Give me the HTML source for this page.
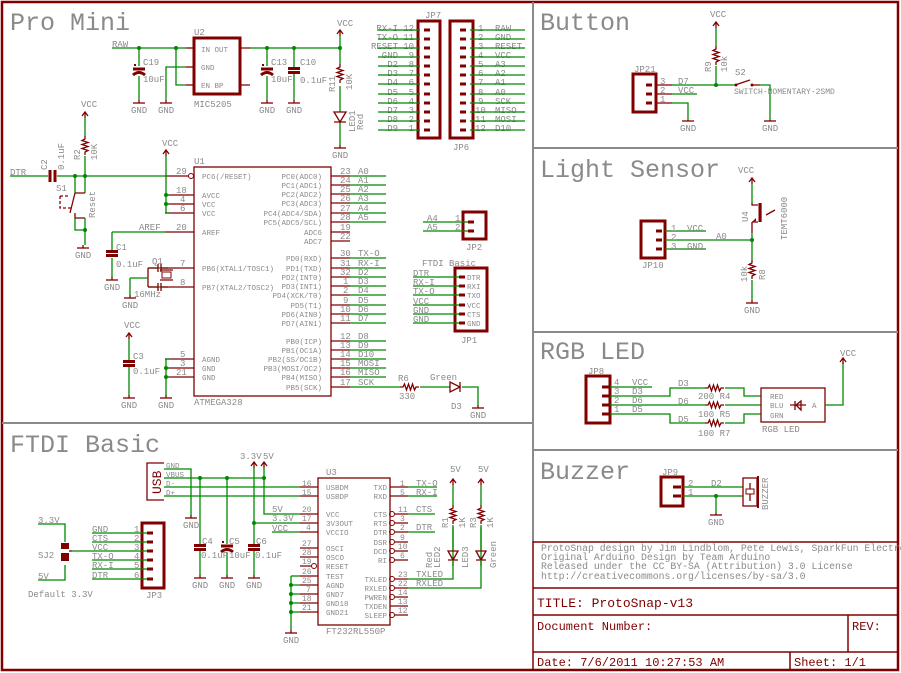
<!DOCTYPE html>
<html><head><meta charset="utf-8"><style>
html,body{margin:0;padding:0;background:#fff;}
svg{display:block;}
text{font-family:"Liberation Mono",monospace;}
.g{fill:#8a8a8a;font-size:9px;}
.s{fill:#8a8a8a;font-size:7.5px;}
.t{fill:#8a8a8a;font-size:25px;}
.r{stroke:#800000;stroke-width:1.3;fill:none;}
.rb{stroke:#800000;stroke-width:3;fill:none;}
.w{stroke:#008800;stroke-width:1.3;fill:none;}
.d{fill:#008800;}
.red{fill:#800000;}
</style></head><body>
<svg width="901" height="673" viewBox="0 0 901 673" xmlns="http://www.w3.org/2000/svg">
<defs>
<g id="gnd"><line x1="-6" y1="0" x2="6" y2="0" class="r"/><text x="-8" y="10" class="g">GND</text></g>
<g id="vcc"><path d="M-3,4 L0,0 L3,4" class="r"/><line x1="0" y1="0" x2="0" y2="6" class="r"/></g>
<g id="resv"><path d="M0,0 l0,3 l-3,1.5 l6,2 l-6,2 l6,2 l-6,2 l6,2 l-3,1.5 l0,3" class="r"/></g>
<g id="resh"><path d="M0,0 l3,0 l1.5,-3 l2,6 l2,-6 l2,6 l2,-6 l2,6 l1.5,-3 l3,0" class="r"/></g>
<g id="capv"><line x1="-6" y1="-1.5" x2="6" y2="-1.5" class="rb"/><line x1="-6" y1="2.5" x2="6" y2="2.5" class="rb"/></g>
<g id="capp"><line x1="-6" y1="-2" x2="6" y2="-2" class="rb"/><path d="M-6,4 Q0,-1 6,4" class="rb"/><rect x="-5" y="-7" width="2" height="2" class="red"/></g>
</defs>

<!-- frame -->
<rect x="2" y="2" width="896" height="668" fill="none" stroke="#800000" stroke-width="2.5"/>
<line x1="2" y1="423" x2="533" y2="423" stroke="#8a8a8a" stroke-width="2"/>
<line x1="533" y1="2" x2="533" y2="542" stroke="#8a8a8a" stroke-width="2"/>
<line x1="533" y1="148" x2="898" y2="148" stroke="#8a8a8a" stroke-width="2"/>
<line x1="533" y1="332" x2="898" y2="332" stroke="#8a8a8a" stroke-width="2"/>
<line x1="533" y1="450" x2="898" y2="450" stroke="#8a8a8a" stroke-width="2"/>

<!-- titles -->
<text x="10" y="30" class="t">Pro Mini</text>
<text x="10" y="452" class="t">FTDI Basic</text>
<text x="540" y="30" class="t">Button</text>
<text x="540" y="177" class="t">Light Sensor</text>
<text x="540" y="359" class="t">RGB LED</text>
<text x="540" y="479" class="t">Buzzer</text>

<!-- ============ PRO MINI top ============ -->
<text x="112" y="47" class="g">RAW</text>
<path d="M112,48 H186" class="w"/><path d="M186,48 H194" class="r"/>
<circle cx="139" cy="48" r="2" class="d"/><circle cx="176" cy="48" r="2" class="d"/>
<path d="M139,48 V66 M139,76 V100" class="w"/><use href="#capp" x="139" y="71"/>
<path d="M139,100 V103" class="r"/><use href="#gnd" x="139" y="103"/>
<text x="143" y="65" class="g">C19</text><text x="143" y="82" class="g">10uF</text>
<path d="M176,48 V85 H186" class="w"/><path d="M186,85 H194" class="r"/>
<path d="M186,67 H166 V100" class="w"/><path d="M166,100 V103" class="r"/><use href="#gnd" x="166" y="103"/>
<path d="M186,67 H194" class="r"/>
<rect x="194" y="38" width="46" height="56" class="rb" stroke-width="2"/>
<text x="194" y="35" class="g">U2</text><text x="194" y="107" class="g">MIC5205</text>
<text x="201" y="52" class="s">IN OUT</text><text x="201" y="70" class="s">GND</text><text x="201" y="88" class="s">EN  BP</text>
<path d="M240,48 H250 M240,85 H250" class="r"/>
<path d="M250,48 H340" class="w"/>
<circle cx="267" cy="48" r="2" class="d"/><circle cx="294" cy="48" r="2" class="d"/><circle cx="340" cy="48" r="2" class="d"/>
<path d="M267,48 V66 M267,76 V100" class="w"/><use href="#capp" x="267" y="71"/><path d="M267,100V103" class="r"/><use href="#gnd" x="267" y="103"/>
<text x="271" y="65" class="g">C13</text><text x="271" y="82" class="g">10uF</text>
<path d="M294,48 V68 M294,74 V100" class="w"/><use href="#capv" x="294" y="70"/><path d="M294,100V103" class="r"/><use href="#gnd" x="294" y="103"/>
<text x="300" y="65" class="g">C10</text><text x="300" y="83" class="g">0.1uF</text>
<use href="#vcc" x="340" y="30"/><text x="337" y="26" class="g">VCC</text>
<path d="M340,36 V64 M340,86 V112 M340,122 V145" class="w"/>
<use href="#resv" x="340" y="64"/>
<text transform="translate(335,92) rotate(-90)" class="g">R11</text><text transform="translate(352,90) rotate(-90)" class="g">10K</text>
<path d="M334,112 H346 L340,122 Z M334,122 H346" class="r"/>
<text transform="translate(355,132) rotate(-90)" class="g">LED1</text><text transform="translate(363,130) rotate(-90)" class="g">Red</text>
<path d="M340,145V148" class="r"/><use href="#gnd" x="340" y="148"/>

<!-- JP7 -->
<text x="425" y="18" class="g">JP7</text>
<rect x="418" y="21" width="22" height="117" class="rb" stroke-width="2"/>
<g class="g" text-anchor="end">
<text x="398" y="31">RX-I</text><text x="398" y="40">TX-O</text><text x="398" y="49">RESET</text><text x="398" y="58">GND</text>
<text x="398" y="67">D2</text><text x="398" y="76">D3</text><text x="398" y="85">D4</text><text x="398" y="95">D5</text>
<text x="398" y="104">D6</text><text x="398" y="113">D7</text><text x="398" y="122">D8</text><text x="398" y="131">D9</text>
<text x="414" y="31">12</text><text x="414" y="40">11</text><text x="414" y="49">10</text><text x="414" y="58">9</text>
<text x="414" y="67">8</text><text x="414" y="76">7</text><text x="414" y="85">6</text><text x="414" y="95">5</text>
<text x="414" y="104">4</text><text x="414" y="113">3</text><text x="414" y="122">2</text><text x="414" y="131">1</text>
</g>
<g class="w">
<path d="M378,30H420M378,39H420M378,48H420M378,57H420M378,66H420M378,75H420M378,84H420M378,94H420M378,103H420M378,112H420M378,121H420M378,130H420"/>
</g>
<g class="rb" stroke-width="2.5"><path d="M424,30h6M424,39h6M424,48h6M424,57h6M424,66h6M424,75h6M424,84h6M424,94h6M424,103h6M424,112h6M424,121h6M424,130h6"/></g>
<!-- JP6 -->
<rect x="450" y="21" width="23" height="117" class="rb" stroke-width="2"/>
<text x="453" y="150" class="g">JP6</text>
<g class="g">
<text x="478" y="31">1</text><text x="478" y="40">2</text><text x="478" y="49">3</text><text x="478" y="58">4</text>
<text x="478" y="67">5</text><text x="478" y="76">6</text><text x="478" y="85">7</text><text x="478" y="95">8</text>
<text x="478" y="104">9</text><text x="475" y="113">10</text><text x="475" y="122">11</text><text x="475" y="131">12</text>
<text x="495" y="31">RAW</text><text x="495" y="40">GND</text><text x="495" y="49">RESET</text><text x="495" y="58">VCC</text>
<text x="495" y="67">A3</text><text x="495" y="76">A2</text><text x="495" y="85">A1</text><text x="495" y="95">A0</text>
<text x="495" y="104">SCK</text><text x="495" y="113">MISO</text><text x="495" y="122">MOSI</text><text x="495" y="131">D10</text>
</g>
<g class="w"><path d="M470,30H525M470,39H525M470,48H525M470,57H525M470,66H525M470,75H525M470,84H525M470,94H525M470,103H525M470,112H525M470,121H525M470,130H525"/></g>
<g class="rb" stroke-width="2.5"><path d="M460,30h6M460,39h6M460,48h6M460,57h6M460,66h6M460,75h6M460,84h6M460,94h6M460,103h6M460,112h6M460,121h6M460,130h6"/></g>

<!-- ============ U1 ============ -->
<rect x="194" y="167" width="137" height="229" class="r"/>
<text x="194" y="164" class="g">U1</text><text x="194" y="405" class="g">ATMEGA328</text>
<g class="r"><path d="M165,176H189 M165,195H194 M165,204H194 M165,213H194 M165,232H194 M165,268H194 M165,287H194 M165,359H194 M165,368H194 M165,377H194"/></g>
<circle cx="191" cy="176" r="2.5" fill="none" stroke="#800000"/>
<g class="g"><text x="176" y="174">29</text><text x="176" y="193">18</text><text x="180" y="202">4</text><text x="180" y="211">6</text><text x="176" y="230">20</text><text x="180" y="266">7</text><text x="180" y="285">8</text><text x="180" y="357">5</text><text x="180" y="366">3</text><text x="176" y="375">21</text></g>
<g class="s"><text x="202" y="179">PC6(/RESET)</text><text x="202" y="198">AVCC</text><text x="202" y="207">VCC</text><text x="202" y="216">VCC</text><text x="202" y="235">AREF</text>
<text x="202" y="271">PB6(XTAL1/TOSC1)</text><text x="202" y="290">PB7(XTAL2/TOSC2)</text><text x="202" y="362">AGND</text><text x="202" y="371">GND</text><text x="202" y="380">GND</text></g>
<g class="s" text-anchor="end">
<text x="322" y="179">PC0(ADC0)</text><text x="322" y="188">PC1(ADC1)</text><text x="322" y="197">PC2(ADC2)</text><text x="322" y="206">PC3(ADC3)</text><text x="322" y="216">PC4(ADC4/SDA)</text><text x="322" y="225">PC5(ADC5/SCL)</text>
<text x="322" y="235">ADC6</text><text x="322" y="244">ADC7</text>
<text x="322" y="261">PD0(RXD)</text><text x="322" y="271">PD1(TXD)</text><text x="322" y="280">PD2(INT0)</text><text x="322" y="289">PD3(INT1)</text><text x="322" y="298">PD4(XCK/T0)</text><text x="322" y="308">PD5(T1)</text><text x="322" y="317">PD6(AIN0)</text><text x="322" y="326">PD7(AIN1)</text>
<text x="322" y="344">PB0(ICP)</text><text x="322" y="353">PB1(OC1A)</text><text x="322" y="362">PB2(SS/OC1B)</text><text x="322" y="371">PB3(MOSI/OC2)</text><text x="322" y="380">PB4(MISO)</text><text x="322" y="390">PB5(SCK)</text>
</g>
<g class="r"><path d="M331,176H350M331,185H350M331,194H350M331,203H350M331,213H350M331,222H350M331,232H350M331,241H350M331,258H350M331,268H350M331,277H350M331,286H350M331,295H350M331,305H350M331,314H350M331,323H350M331,341H350M331,350H350M331,359H350M331,368H350M331,377H350M331,387H350"/></g>
<g class="w"><path d="M350,176H386M350,185H386M350,194H386M350,203H386M350,213H386M350,222H386M350,258H386M350,268H386M350,277H386M350,286H386M350,295H386M350,305H386M350,314H386M350,323H386M350,341H386M350,350H386M350,359H386M350,368H386M350,377H386M350,387H400"/></g>
<g class="g">
<text x="340" y="174">23</text><text x="358" y="174">A0</text><text x="340" y="183">24</text><text x="358" y="183">A1</text><text x="340" y="192">25</text><text x="358" y="192">A2</text><text x="340" y="201">26</text><text x="358" y="201">A3</text><text x="340" y="211">27</text><text x="358" y="211">A4</text><text x="340" y="220">28</text><text x="358" y="220">A5</text>
<text x="340" y="230">19</text><text x="340" y="239">22</text>
<text x="340" y="256">30</text><text x="358" y="256">TX-O</text><text x="340" y="266">31</text><text x="358" y="266">RX-I</text><text x="340" y="275">32</text><text x="358" y="275">D2</text><text x="343" y="284">1</text><text x="358" y="284">D3</text><text x="343" y="293">2</text><text x="358" y="293">D4</text><text x="343" y="303">9</text><text x="358" y="303">D5</text><text x="340" y="312">10</text><text x="358" y="312">D6</text><text x="340" y="321">11</text><text x="358" y="321">D7</text>
<text x="340" y="339">12</text><text x="358" y="339">D8</text><text x="340" y="348">13</text><text x="358" y="348">D9</text><text x="340" y="357">14</text><text x="358" y="357">D10</text><text x="340" y="366">15</text><text x="358" y="366">MOSI</text><text x="340" y="375">16</text><text x="358" y="375">MISO</text><text x="340" y="385">17</text><text x="358" y="385">SCK</text>
</g>
<!-- R6, D3 -->
<use href="#resh" x="400" y="387"/><path d="M420,387H450 M462,387H478V405" class="w"/>
<text x="398" y="381" class="g">R6</text><text x="399" y="399" class="g">330</text>
<path d="M450,382 L450,392 L460,387 Z M460,382 V392" class="r"/><text x="430" y="380" class="g">Green</text><text x="451" y="409" class="g">D3</text>
<path d="M478,405V408" class="r"/><use href="#gnd" x="478" y="408"/>

<!-- reset area -->
<text x="10" y="175" class="g">DTR</text>
<path d="M10,176H48 M57,176H165" class="w"/>
<path d="M50,170V182 M55,170V182" class="rb"/>
<text transform="translate(47,170) rotate(-90)" class="g">C2</text><text transform="translate(64,170) rotate(-90)" class="g">0.1uF</text>
<circle cx="75" cy="176" r="2" class="d"/><circle cx="85" cy="176" r="2" class="d"/>
<use href="#vcc" x="85" y="112"/><text x="81" y="107" class="g">VCC</text>
<path d="M85,118V136 M85,156V176" class="w"/><use href="#resv" x="85" y="136"/>
<text transform="translate(80,160) rotate(-90)" class="g">R2</text><text transform="translate(97,160) rotate(-90)" class="g">10K</text>
<path d="M75,176V193 M85,176V193" class="w"/><path d="M75,193 H85 M75,213 V218 H85" class="r"/>
<path d="M75,193 L70,213" class="r"/><path d="M60,196 H68 M60,196 V208 H72" class="r" stroke-dasharray="3,2"/>
<text x="56" y="191" class="g">S1</text><text transform="translate(95,218) rotate(-90)" class="g">Reset</text>
<path d="M75,218 V230 H85 M85,218 V245" class="w"/><circle cx="85" cy="230" r="2" class="d"/>
<use href="#gnd" x="83" y="248"/><path d="M83,245V248" class="r"/>
<!-- VCC bus -->
<use href="#vcc" x="166" y="150"/><text x="162" y="156" class="g" dy="-10">VCC</text>
<path d="M166,156V213H170 M166,195H170 M166,204H170" class="w"/>
<circle cx="166" cy="195" r="2" class="d"/><circle cx="166" cy="204" r="2" class="d"/>
<!-- AREF C1 -->
<text x="139" y="230" class="g">AREF</text>
<path d="M112,232H165 M112,232V250 M112,258V277" class="w"/><use href="#capv" x="112" y="253"/>
<text x="116" y="250" class="g">C1</text><text x="116" y="267" class="g">0.1uF</text>
<path d="M112,277V280" class="r"/><use href="#gnd" x="112" y="280"/>
<!-- crystal -->
<path d="M148,268 H165 M148,287 H165" class="w"/>
<path d="M148,268 H158 M148,287 H158 M148,268 V287 M158,264V272 M161,264V272 M158,283V291 M161,283V291 M161,268H168 M161,287H168" class="r"/>
<rect x="162" y="272" width="9" height="6" fill="none" stroke="#800000"/><path d="M160,270H173 M160,280H173" class="r"/>
<path d="M130,278 H148 M130,278 V295" class="w"/><path d="M130,295V298" class="r"/><use href="#gnd" x="130" y="298"/>
<text x="152" y="264" class="g">Q1</text><text x="134" y="297" class="g">16MHz</text>
<!-- C3 -->
<use href="#vcc" x="129" y="333"/><text x="124" y="328" class="g">VCC</text>
<path d="M129,339V360 M129,367V395" class="w"/><use href="#capv" x="129" y="363"/>
<text x="133" y="359" class="g">C3</text><text x="133" y="374" class="g">0.1uF</text>
<path d="M129,395V398" class="r"/><use href="#gnd" x="129" y="398"/>
<path d="M166,359V395 M166,359H170 M166,368H170 M166,377H170" class="w"/>
<circle cx="166" cy="368" r="2" class="d"/><circle cx="166" cy="377" r="2" class="d"/>
<path d="M166,395V398" class="r"/><use href="#gnd" x="166" y="398"/>

<!-- JP2 -->
<rect x="463" y="212" width="23" height="27" class="rb" stroke-width="2"/>
<text x="466" y="250" class="g">JP2</text>
<path d="M423,222H470 M423,231H470" class="w"/><path d="M468,222h6M468,231h6" class="rb" stroke-width="2.5"/>
<text x="427" y="221" class="g">A4</text><text x="427" y="230" class="g">A5</text><text x="455" y="221" class="g">1</text><text x="455" y="230" class="g">2</text>
<!-- JP1 -->
<text x="422" y="266" class="g">FTDI Basic</text>
<rect x="455" y="268" width="32" height="63" class="rb" stroke-width="2"/>
<text x="461" y="343" class="g">JP1</text>
<path d="M413,277H462M413,286H462M413,295H462M413,305H462M413,314H462M413,323H462" class="w"/>
<path d="M459,277h6M459,286h6M459,295h6M459,305h6M459,314h6M459,323h6" class="rb" stroke-width="2.5"/>
<g class="g"><text x="413" y="276">DTR</text><text x="413" y="285">RX-I</text><text x="413" y="294">TX-O</text><text x="413" y="304">VCC</text><text x="413" y="313">GND</text><text x="413" y="322">GND</text></g>
<g class="s"><text x="467" y="280">DTR</text><text x="467" y="289">RXI</text><text x="467" y="298">TXO</text><text x="467" y="308">VCC</text><text x="467" y="317">CTS</text><text x="467" y="326">GND</text></g>

<!-- ============ FTDI Basic ============ -->
<path d="M164,463 H147 V500 H164" class="r"/>
<text transform="translate(161,494) rotate(-90)" fill="#800000" style="font-size:13px;font-family:'Liberation Mono',monospace">USB</text>
<g class="s"><text x="166" y="468">GND</text><text x="166" y="477">VBUS</text><text x="166" y="486">D-</text><text x="166" y="495">D+</text></g>
<path d="M164,478H264 M164,487H300 M164,496H300 M164,469H191V515" class="w"/>
<path d="M191,515V518" class="r"/><use href="#gnd" x="191" y="518"/>
<circle cx="200" cy="478" r="2" class="d"/><circle cx="227" cy="478" r="2" class="d"/><circle cx="264" cy="478" r="2" class="d"/>
<text x="240" y="459" class="g">3.3V</text><text x="263" y="459" class="g">5V</text>
<use href="#vcc" x="254" y="462"/><use href="#vcc" x="264" y="462"/>
<path d="M264,468V514H300 M254,468V523H300 M272,532H300" class="w"/><circle cx="254" cy="523" r="2" class="d"/>
<g class="g"><text x="272" y="512">5V</text><text x="272" y="521">3.3V</text><text x="272" y="531">VCC</text></g>
<path d="M200,478V545 M200,551V575 M227,478V544 M227,552V575 M254,523V545 M254,551V575" class="w"/>
<use href="#capv" x="200" y="547"/><use href="#capp" x="227" y="548"/><use href="#capv" x="254" y="547"/>
<g class="g"><text x="202" y="544">C4</text><text x="229" y="544">C5</text><text x="256" y="544">C6</text><text x="201" y="558">0.1uF</text><text x="229" y="558">10uF</text><text x="255" y="558">0.1uF</text></g>
<path d="M200,575V578 M227,575V578 M254,575V578" class="r"/>
<use href="#gnd" x="200" y="578"/><use href="#gnd" x="227" y="578"/><use href="#gnd" x="254" y="578"/>
<!-- U3 -->
<rect x="318" y="478" width="72" height="147" class="r"/>
<text x="326" y="475" class="g">U3</text><text x="326" y="634" class="g">FT232RL550P</text>
<g class="r"><path d="M300,487H318M300,496H318M300,514H318M300,523H318M300,532H318M300,548H318M300,557H318M300,566H311M300,576H318M300,585H318M300,594H318M300,603H318M300,612H318"/>
<path d="M390,487H408M390,496H408M395,514H408M395,523H408M395,532H408M395,542H408M395,551H408M395,560H408M395,579H408M395,588H408M395,597H408M390,606H408M395,615H408"/></g>
<g fill="none" stroke="#800000"><circle cx="314" cy="566" r="2.5"/><circle cx="392" cy="514" r="2.5"/><circle cx="392" cy="523" r="2.5"/><circle cx="392" cy="532" r="2.5"/><circle cx="392" cy="542" r="2.5"/><circle cx="392" cy="551" r="2.5"/><circle cx="392" cy="560" r="2.5"/><circle cx="392" cy="579" r="2.5"/><circle cx="392" cy="588" r="2.5"/><circle cx="392" cy="597" r="2.5"/><circle cx="392" cy="615" r="2.5"/></g>
<g class="g" style="font-size:8px">
<text x="302" y="486">16</text><text x="302" y="495">15</text><text x="302" y="512">20</text><text x="302" y="521">17</text><text x="306" y="530">4</text><text x="302" y="546">27</text><text x="302" y="555">28</text><text x="302" y="564">19</text><text x="302" y="574">26</text><text x="302" y="583">25</text><text x="306" y="592">7</text><text x="302" y="601">18</text><text x="302" y="610">21</text>
<text x="400" y="486">1</text><text x="400" y="495">5</text><text x="398" y="512">11</text><text x="400" y="521">3</text><text x="400" y="530">2</text><text x="400" y="540">9</text><text x="398" y="549">10</text><text x="400" y="558">6</text><text x="398" y="577">23</text><text x="398" y="586">22</text><text x="398" y="595">14</text><text x="398" y="604">13</text><text x="398" y="613">12</text>
</g>
<g class="s"><text x="326" y="490">USBDM</text><text x="326" y="499">USBDP</text><text x="326" y="517">VCC</text><text x="326" y="526">3V3OUT</text><text x="326" y="535">VCCIO</text><text x="326" y="551">OSCI</text><text x="326" y="560">OSCO</text><text x="326" y="569">RESET</text><text x="326" y="579">TEST</text><text x="326" y="588">AGND</text><text x="326" y="597">GND7</text><text x="326" y="606">GND18</text><text x="326" y="615">GND21</text></g>
<g class="s" text-anchor="end"><text x="387" y="490">TXD</text><text x="387" y="499">RXD</text><text x="387" y="517">CTS</text><text x="387" y="526">RTS</text><text x="387" y="535">DTR</text><text x="387" y="545">DSR</text><text x="387" y="554">DCD</text><text x="387" y="563">RI</text><text x="387" y="582">TXLED</text><text x="387" y="591">RXLED</text><text x="387" y="600">PWREN</text><text x="387" y="609">TXDEN</text><text x="387" y="618">SLEEP</text></g>
<path d="M408,487H437 M408,496H437 M408,514H435 M408,532H435 M408,579H453V527 M408,588H481V527" class="w"/>
<g class="g"><text x="416" y="486">TX-O</text><text x="416" y="495">RX-I</text><text x="416" y="512">CTS</text><text x="416" y="530">DTR</text><text x="416" y="577">TXLED</text><text x="416" y="586">RXLED</text></g>
<path d="M291,576V612 M291,576H300 M291,585H300 M291,594H300 M291,603H300 M291,612H300 M291,612V630" class="w"/>
<circle cx="291" cy="585" r="2" class="d"/><circle cx="291" cy="594" r="2" class="d"/><circle cx="291" cy="603" r="2" class="d"/><circle cx="291" cy="612" r="2" class="d"/>
<path d="M291,630V633" class="r"/><use href="#gnd" x="291" y="633"/>
<!-- R1 R3 LEDs -->
<text x="450" y="472" class="g">5V</text><text x="478" y="472" class="g">5V</text>
<use href="#vcc" x="453" y="479"/><use href="#vcc" x="481" y="479"/>
<path d="M453,485V505 M453,525V551 M481,485V505 M481,525V551" class="w"/>
<use href="#resv" x="453" y="505"/><use href="#resv" x="481" y="505"/>
<path d="M448,551H458L453,560Z M448,560H458 M476,551H486L481,560Z M476,560H486" class="r"/>
<path d="M453,560V566 M481,560V566" class="w"/>
<g class="g"><text transform="translate(448,528) rotate(-90)">R1</text><text transform="translate(465,528) rotate(-90)">1K</text><text transform="translate(476,528) rotate(-90)">R3</text><text transform="translate(493,528) rotate(-90)">1K</text>
<text transform="translate(432,568) rotate(-90)">Red</text><text transform="translate(440,568) rotate(-90)">LED2</text><text transform="translate(468,568) rotate(-90)">LED3</text><text transform="translate(496,568) rotate(-90)">Green</text></g>
<!-- JP3 -->
<rect x="142" y="523" width="22" height="65" class="rb" stroke-width="2"/>
<text x="146" y="598" class="g">JP3</text>
<path d="M92,533H148M92,542H148M92,551H148M92,560H148M92,569H148M92,579H148" class="w"/>
<path d="M147,533h6M147,542h6M147,551h6M147,560h6M147,569h6M147,579h6" class="rb" stroke-width="2.5"/>
<g class="g"><text x="92" y="532">GND</text><text x="92" y="541">CTS</text><text x="92" y="550">VCC</text><text x="92" y="559">TX-O</text><text x="92" y="568">RX-I</text><text x="92" y="578">DTR</text>
<text x="134" y="532">1</text><text x="134" y="541">2</text><text x="134" y="550">3</text><text x="134" y="559">4</text><text x="134" y="568">5</text><text x="134" y="578">6</text></g>
<text x="38" y="523" class="g">3.3V</text><text x="38" y="579" class="g">5V</text>
<path d="M38,524H65V542 M38,580H65V565 M72,551H92" class="w"/>
<path d="M61,543 H69 V549 H61 Z M61,553 H69 V561 H61 Z" fill="#800000"/><path d="M69,551H72" class="r"/>
<text x="38" y="558" class="g">SJ2</text><text x="28" y="597" class="g">Default 3.3V</text>

<!-- ============ Button ============ -->
<use href="#vcc" x="716" y="22"/><text x="710" y="17" class="g">VCC</text>
<path d="M716,28V46 M716,66V85" class="w"/><use href="#resv" x="716" y="46"/>
<text transform="translate(711,72) rotate(-90)" class="g">R9</text><text transform="translate(727,72) rotate(-90)" class="g">10k</text>
<rect x="633" y="74" width="23" height="38" class="rb" stroke-width="2"/><text x="634" y="72" class="g">JP21</text>
<path d="M646,85h6M646,94h6M646,103h6" class="rb" stroke-width="2.5"/>
<path d="M656,85H672 M656,94H672 M656,103H672" class="r"/>
<path d="M672,85H735 M672,94H697 M672,103H688V120" class="w"/><circle cx="716" cy="85" r="2" class="d"/>
<g class="g"><text x="660" y="84">3</text><text x="660" y="93">2</text><text x="660" y="102">1</text><text x="678" y="84">D7</text><text x="678" y="93">VCC</text></g>
<path d="M735,85 L750,80 M752,85H760" class="r"/><circle cx="736" cy="85" r="1.5" class="red"/><circle cx="752" cy="85" r="1.5" class="red"/>
<path d="M760,85H770V120" class="w"/>
<text x="735" y="75" class="g">S2</text><text x="734" y="94" class="s" style="font-size:8px">SWITCH-MOMENTARY-2SMD</text>
<path d="M688,120V121 M770,120V121" class="r"/><use href="#gnd" x="688" y="121"/><use href="#gnd" x="770" y="121"/>

<!-- ============ Light Sensor ============ -->
<use href="#vcc" x="752" y="178"/><text x="738" y="173" class="g">VCC</text>
<path d="M752,184V203" class="w"/><path d="M752,203V205H758 M761,203V222 M752,222H758 M752,222V233" class="r"/>
<path d="M760,203V222" stroke="#800000" stroke-width="3"/><path d="M756,218L752,222L756,221Z" class="red"/>
<path d="M775,210L766,215" class="r"/>
<text transform="translate(748,222) rotate(-90)" class="g">U4</text><text transform="translate(787,240) rotate(-90)" class="g">TEMT6000</text>
<rect x="641" y="221" width="24" height="37" class="rb" stroke-width="2"/><text x="642" y="268" class="g">JP10</text>
<path d="M656,231h6M656,240h6M656,249h6" class="rb" stroke-width="2.5"/>
<path d="M665,231H706 M665,240H752 M665,249H706 M752,233V260 M752,280V300" class="w"/><circle cx="752" cy="240" r="2" class="d"/>
<use href="#resv" x="752" y="260"/>
<g class="g"><text x="671" y="231">1</text><text x="671" y="240">2</text><text x="671" y="249">3</text><text x="687" y="231">VCC</text><text x="716" y="239">A0</text><text x="687" y="249">GND</text></g>
<text transform="translate(747,282) rotate(-90)" class="g">10k</text><text transform="translate(765,280) rotate(-90)" class="g">R8</text>
<path d="M752,300V303" class="r"/><use href="#gnd" x="752" y="303"/>

<!-- ============ RGB LED ============ -->
<rect x="586" y="376" width="24" height="47" class="rb" stroke-width="2"/><text x="588" y="374" class="g">JP8</text>
<path d="M602,387h8M602,396h8M602,405h8M602,414h8" class="rb" stroke-width="2.5"/>
<path d="M610,387H652 M610,396H670V388H705 M725,388H744V396H761 M610,405H705 M725,405H761 M610,414H670V423H705 M725,423H744V414H761" class="w"/>
<use href="#resh" x="705" y="388"/><use href="#resh" x="705" y="405"/><use href="#resh" x="705" y="423"/>
<g class="g"><text x="614" y="385">4</text><text x="614" y="394">3</text><text x="614" y="403">2</text><text x="614" y="412">1</text>
<text x="632" y="385">VCC</text><text x="632" y="394">D3</text><text x="632" y="403">D6</text><text x="632" y="412">D5</text>
<text x="678" y="386">D3</text><text x="678" y="404">D6</text><text x="678" y="422">D5</text>
<text x="698" y="399">200 R4</text><text x="698" y="417">100 R5</text><text x="698" y="436">100 R7</text><text x="762" y="432">RGB LED</text></g>
<rect x="761" y="388" width="64" height="34" class="r"/>
<g class="s"><text x="770" y="399">RED</text><text x="770" y="408">BLU</text><text x="770" y="418">GRN</text><text x="812" y="408">A</text></g>
<path d="M795,401V410 M796,405L801,401V410Z M790,405H806" class="r"/>
<path d="M825,405H843V362" class="w"/><use href="#vcc" x="843" y="358"/><text x="840" y="356" class="g">VCC</text>

<!-- ============ Buzzer ============ -->
<rect x="661" y="477" width="22" height="29" class="rb" stroke-width="2"/><text x="662" y="475" class="g">JP9</text>
<path d="M673,487h8M673,496h8" class="rb" stroke-width="2.5"/>
<path d="M683,487H743 M683,496H743 M716,496V513" class="w"/><circle cx="716" cy="496" r="2" class="d"/>
<g class="g"><text x="688" y="486">2</text><text x="688" y="495">1</text><text x="711" y="486">D2</text></g>
<path d="M716,513V515" class="r"/><use href="#gnd" x="716" y="515"/>
<rect x="743" y="478" width="14" height="28" class="r"/><path d="M758,476V508" stroke="#800000" stroke-width="2"/>
<rect x="746" y="489" width="8" height="5" fill="none" stroke="#800000"/><path d="M750,483V489 M750,494V501" class="r"/>
<text transform="translate(768,510) rotate(-90)" class="g">BUZZER</text>

<!-- ============ title block ============ -->
<rect x="533" y="542" width="365" height="128" fill="none" stroke="#800000" stroke-width="1.5"/>
<path d="M533,588H898 M533,615H898 M533,652H898 M848,615V652 M790,652V670" stroke="#800000" stroke-width="1.5"/>
<g class="g" style="font-size:9.8px"><text x="541" y="551">ProtoSnap design by Jim Lindblom, Pete Lewis, SparkFun Electronics</text><text x="541" y="560">Original Arduino Design by Team Arduino</text><text x="541" y="569">Released under the CC BY-SA (Attribution) 3.0 License</text><text x="541" y="579">http://creativecommons.org/licenses/by-sa/3.0</text></g>
<g fill="#800000" style="font-family:'Liberation Mono',monospace;font-size:13px"><text x="537" y="607">TITLE: ProtoSnap-v13</text><text x="537" y="630" style="font-size:12px">Document Number:</text><text x="852" y="630" style="font-size:12px">REV:</text><text x="537" y="666" style="font-size:12px">Date: 7/6/2011 10:27:53 AM</text><text x="794" y="666" style="font-size:12px">Sheet: 1/1</text></g>
</svg>
</body></html>
